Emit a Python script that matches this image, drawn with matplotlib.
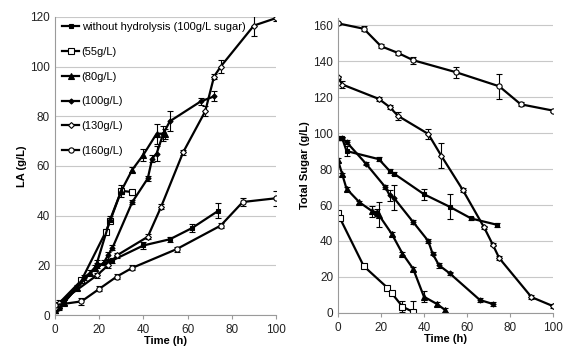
import numpy as np
import matplotlib.pyplot as plt

plt.rcParams['font.family'] = ['Liberation Sans', 'DejaVu Sans']

# ---- LA (g/L) data, left panel ----
t_wo = [0, 2, 4, 19, 24, 26, 40, 52, 62, 74]
la_wo = [2, 3.5, 5, 20, 21, 22, 28, 30.5, 35, 42]
la_wo_err = [1, 1, 1, 1, 1, 1, 1.5, 1, 1.5, 3]

t_55 = [0, 1, 12, 23, 25, 30, 35]
la_55 = [3, 4, 14, 33.5, 38, 50, 49.5]
la_55_err = [1, 1, 1, 1, 1, 2.5, 1]

t_80 = [0, 2, 4, 10, 16, 18, 19, 25, 30, 35, 40, 46, 50]
la_80 = [2, 4, 5, 11, 17, 19, 21, 38.5, 50, 58.5, 64.5, 73, 73]
la_80_err = [1, 1, 1, 1, 1, 1, 1, 1.5, 1, 1, 2.5, 4, 2]

t_100 = [0, 2, 4, 13, 22, 24, 26, 35, 42, 44, 46, 49, 52, 66, 72]
la_100 = [2, 3, 5, 15, 21, 24, 27, 45.5, 55, 63, 65, 73, 78, 86, 88]
la_100_err = [1, 1, 1, 1, 1, 1.5, 1, 1, 1, 1.5, 3, 3, 4, 1.5, 2]

t_130 = [0, 2, 19, 24, 28, 42, 48, 58, 68, 72, 75, 90, 100]
la_130 = [3, 5, 16, 20, 24, 31.5, 43.5, 65.5, 82, 96, 100, 116.5, 119.5]
la_130_err = [1, 1, 1, 1, 1, 1, 1, 1, 2, 1, 2.5, 4, 1]

t_160 = [0, 12, 20, 28, 35, 55, 75, 85, 100]
la_160 = [4, 5.5, 10.5, 15.5, 19, 26.5, 36, 45.5, 47]
la_160_err = [1, 1.5, 1, 1, 1, 1, 1, 1.5, 3]

# ---- Total sugar (g/L) data, right panel ----
ts_wo = [0, 2, 4, 19, 24, 26, 40, 52, 62, 74]
su_wo = [97, 97, 90, 85.5, 79, 77.5, 66, 59, 52.5, 49]
su_wo_err = [1, 1, 3, 1, 1, 1, 3, 7, 1, 1]

ts_55 = [0, 1, 12, 23, 25, 30, 35]
su_55 = [55.5, 52.5, 26, 14, 11, 3.5, 0.5]
su_55_err = [1, 1, 1, 1, 1, 3, 6]

ts_80 = [0, 2, 4, 10, 16, 18, 19, 25, 30, 35, 40, 46, 50]
su_80 = [85, 77, 69, 61.5, 56.5, 56, 54.5, 44, 33, 24.5, 9, 5, 1.5]
su_80_err = [1, 1, 1, 1, 3, 2, 7, 1, 1, 1, 3, 1, 1]

ts_100 = [0, 2, 4, 13, 22, 24, 26, 35, 42, 44, 47, 52, 66, 72]
su_100 = [97, 97, 95, 83, 70, 65.5, 64, 50.5, 40, 33, 26.5, 22, 7.2, 5]
su_100_err = [1, 1, 1, 1, 1, 3, 7, 1, 1, 1, 1.5, 1, 1, 1]

ts_130 = [0, 2, 19, 24, 28, 42, 48, 58, 68, 72, 75, 90, 100]
su_130 = [131, 127, 119, 114.5, 109.5, 99.5, 87.5, 68.5, 47.5, 38, 30.5, 8.8, 3.8]
su_130_err = [1, 2, 1, 1, 2, 3, 7, 1, 1, 1, 1, 1, 1]

ts_160 = [0, 12, 20, 28, 35, 55, 75, 85, 100]
su_160 = [161, 158, 148.3, 144.5, 140.5, 133.8, 126, 116, 112.5]
su_160_err = [1, 1.5, 1, 1, 2, 3, 7, 1, 1]

labels = ['without hydrolysis (100g/L sugar)', '(55g/L)', '(80g/L)',
          '(100g/L)', '(130g/L)', '(160g/L)']
styles = [dict(marker='s', mfc='black', ms=3),
          dict(marker='s', mfc='white', ms=3.8),
          dict(marker='^', mfc='black', ms=3.8),
          dict(marker='D', mfc='black', ms=2.6),
          dict(marker='D', mfc='white', ms=3),
          dict(marker='o', mfc='white', ms=3.8)]

la_series = [(t_wo, la_wo, la_wo_err), (t_55, la_55, la_55_err),
             (t_80, la_80, la_80_err), (t_100, la_100, la_100_err),
             (t_130, la_130, la_130_err), (t_160, la_160, la_160_err)]
su_series = [(ts_wo, su_wo, su_wo_err), (ts_55, su_55, su_55_err),
             (ts_80, su_80, su_80_err), (ts_100, su_100, su_100_err),
             (ts_130, su_130, su_130_err), (ts_160, su_160, su_160_err)]

fig = plt.figure(figsize=(5.68, 3.52), dpi=100)
ax1 = fig.add_axes([0.0968, 0.105, 0.389, 0.847])
ax2 = fig.add_axes([0.595, 0.111, 0.3785, 0.838])


def style_axes(ax, ymax, ylabel):
    ax.set_xlim(0, 100)
    ax.set_ylim(0, ymax)
    ax.set_xticks(range(0, 101, 20))
    for s in ['top', 'right']:
        ax.spines[s].set_visible(False)
    for s in ['left', 'bottom']:
        ax.spines[s].set_color('#9a9a9a')
        ax.spines[s].set_linewidth(0.8)
    ax.grid(axis='y', color='#c8c8c8', linewidth=0.8)
    ax.set_axisbelow(True)
    ax.tick_params(axis='both', labelsize=8.5, colors='#9a9a9a', labelcolor='#222222',
                   length=3, width=0.8)
    ax.tick_params(axis='y', length=0)
    ax.set_xlabel('Time (h)', fontsize=8, fontweight='bold', labelpad=0)
    ax.set_ylabel(ylabel, fontsize=8, fontweight='bold', labelpad=2)


for (t, y, e), lab, st in zip(la_series, labels, styles):
    ax1.errorbar(t, y, yerr=e, color='black', lw=1.6, mec='black', mew=0.8,
                 ecolor='black', elinewidth=0.8, capsize=2, label=lab, **st)
for (t, y, e), st in zip(su_series, styles):
    ax2.errorbar(t, y, yerr=e, color='black', lw=1.6, mec='black', mew=0.8,
                 ecolor='black', elinewidth=0.8, capsize=2, **st)

style_axes(ax1, 120, 'LA (g/L)')
ax1.set_yticks(range(0, 121, 20))
style_axes(ax2, 164, 'Total Sugar (g/L)')
ax2.set_yticks(range(0, 161, 20))

handles, labs = ax1.get_legend_handles_labels()
handles = [h[0] for h in handles]
ax1.legend(handles, labs, loc='upper left', bbox_to_anchor=(0.0, 1.005),
           frameon=False, fontsize=8, labelspacing=1.33, handlelength=1.6,
           handletextpad=0.2, borderaxespad=0.2)

fig.savefig('out.png', dpi=100)
